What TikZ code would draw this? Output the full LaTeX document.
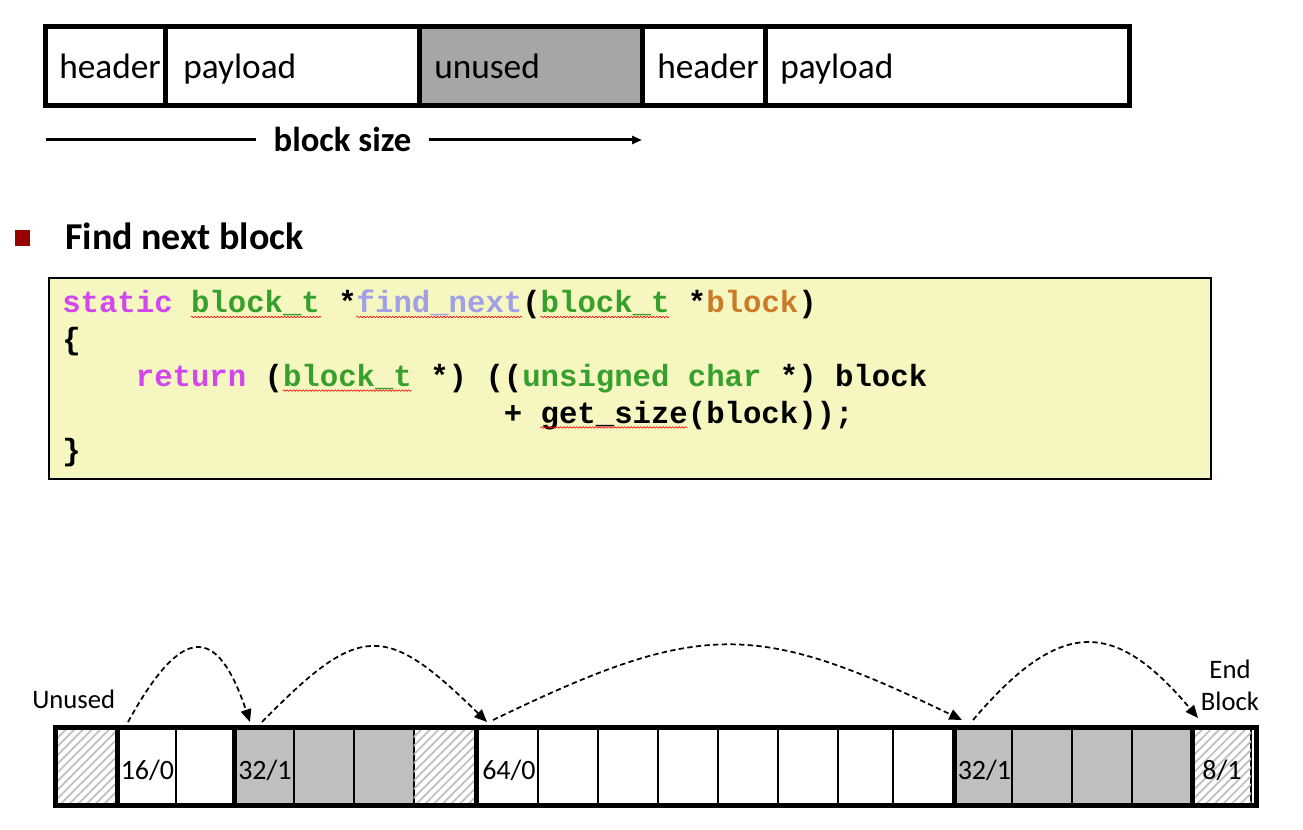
\documentclass[tikz,border=0pt]{standalone}
\usepackage{fontspec}
\setmainfont{Carlito}
\newfontfamily\codefont{Liberation Mono}
\usetikzlibrary{arrows.meta,patterns.meta,decorations.pathmorphing,calc}
\definecolor{kwc}{RGB}{210,70,240}
\definecolor{tyc}{RGB}{55,160,45}
\definecolor{fnc}{RGB}{160,160,232}
\definecolor{pac}{RGB}{205,122,40}
\definecolor{codebg}{RGB}{246,246,192}
\definecolor{topgray}{RGB}{166,166,166}
\definecolor{cellgray}{RGB}{191,191,191}
\definecolor{hatchc}{RGB}{190,190,190}
\definecolor{bulletred}{RGB}{153,0,0}
\newcommand\ckw[1]{{\color{kwc}#1}}
\newcommand\cty[1]{{\color{tyc}#1}}
\newcommand\cfn[1]{{\color{fnc}#1}}
\newcommand\cpa[1]{{\color{pac}#1}}
\begin{document}
\begin{tikzpicture}[x=0.75pt,y=-0.75pt,
  sect/.style={draw, line width=3.75pt, minimum height=58.9pt, inner sep=0pt, outer sep=0pt},
  toptext/.style={anchor=base west, inner sep=0pt, font=\fontsize{26.5}{30}\selectfont},
  code/.style={anchor=base west, inner sep=0pt, font=\fontsize{23}{27}\selectfont\codefont\bfseries},
  squig/.style={red, line width=0.45pt, decorate, decoration={snake, amplitude=0.55pt, segment length=2.4pt}},
  cell/.style={draw, line width=1.5pt, minimum height=58.5pt, inner sep=0pt, outer sep=0pt},
  whitecell/.style={fill=white},
  graycell/.style={fill=cellgray},
  hatchcell/.style={fill=white, postaction={pattern={Lines[angle=45,distance=4.6pt,line width=1.3pt]}, pattern color=hatchc}},
  thickline/.style={line width=3.75pt},
  lab/.style={inner sep=0pt, font=\fontsize{21}{24}\selectfont},
  conn/.style={line width=1.3pt, dash pattern=on 4pt off 2.5pt, -{Triangle[length=9.5pt,width=8pt]}},
  bsline/.style={line width=2.25pt}
]
\useasboundingbox (0,0) rectangle (1303,830);

% ---- top bar ----
\node[sect, fill=white, minimum width={(165-45)*0.75pt}] (s1) at (105,65.75) {};
\node[sect, fill=white, minimum width={(419-165)*0.75pt}] (s2) at (292,65.75) {};
\node[sect, fill=topgray, minimum width={(642-419)*0.75pt}] (s3) at (530.5,65.75) {};
\node[sect, fill=white, minimum width={(765-642)*0.75pt}] (s4) at (703.5,65.75) {};
\node[sect, fill=white, minimum width={(1129-765)*0.75pt}] (s5) at (947,65.75) {};
\node[toptext] (t1) at (59,79) {header};
\node[toptext] (t2) at (183,79) {payload};
\node[toptext] (t3) at (434,79) {unused};
\node[toptext] (t4) at (657,79) {header};
\node[toptext] (t5) at (780,79) {payload};

% ---- block size ----
\node[anchor=base, inner xsep=12.75pt, inner ysep=0pt, font=\bfseries\fontsize{26}{30}\selectfont] (bs) at (342.5,152) {block size};
\coordinate (bsl) at (46,140);
\coordinate (bsr) at (642,140);
\draw[bsline] (bsl) -- (bsl -| bs.west);
\draw[bsline, -{Triangle[length=7.5pt,width=6pt]}] (bsr -| bs.east) -- (bsr);

% ---- bullet ----
\node[fill=bulletred, minimum size=11.5pt, inner sep=0pt] (bul) at (22.5,238) {};
\node[anchor=base west, inner sep=0pt, font=\bfseries\fontsize{28.5}{32}\selectfont] (title) at (65,250) {Find next block};

% ---- code box ----
\node[draw, line width=1.9pt, fill=codebg, minimum width=871.5pt, minimum height=150.75pt, inner sep=0pt] (codebox) at (630,378.5) {};
\node[code] (code1) at (62,313) {\ckw{static} \cty{block\_t} *\cfn{find\_next}(\cty{block\_t} *\cpa{block})};
\node[code] (code2) at (62,349.8) {\{};
\node[code] (code3) at (135.6,386.6) {\ckw{return} (\cty{block\_t} *) ((\cty{unsigned char} *) block};
\node[code] (code4) at (503.6,423.4) {+ get\_size(block));};
\node[code] (code5) at (62,460.2) {\}};
% spell-check squiggles
\draw[squig] (190.8,317) -- (320.8,317);
\draw[squig] (356.4,317) -- (522,317);
\draw[squig] (540.4,317) -- (669.2,317);
\draw[squig] (282.8,390.6) -- (411.6,390.6);
\draw[squig] (540.4,427.4) -- (687.6,427.4);

% ---- heap cells ----
\foreach \n/\a/\b/\s in {
  1/55/117.5/hatchcell, 2/117.5/176/whitecell, 3/176/234/whitecell,
  4/234/294/graycell, 5/294/353.5/graycell, 6/353.5/413.5/graycell, 7/413.5/476/hatchcell,
  8/476/538/whitecell, 9/538/598/whitecell, 10/598/658/whitecell, 11/658/718/whitecell,
  12/718/778/whitecell, 13/778/838/whitecell, 14/838/893/whitecell, 15/893/954/whitecell,
  16/954/1012/graycell, 17/1012/1072/graycell, 18/1072/1132/graycell, 19/1132/1192/graycell,
  20/1192/1251/hatchcell} {
  \node[cell, \s, minimum width={(\b-\a)*0.75pt}] (c\n) at ({(\a+\b)/2},766.5) {};
}
\foreach \n in {1,3,7,15,19} {
  \draw[thickline] (c\n.north east) -- (c\n.south east);
}
\node[draw, thickline, minimum width={(1256-55)*0.75pt}, minimum height=58.5pt, inner sep=0pt, outer sep=0pt] (heap) at (655.5,766.5) {};

\node[lab, anchor=base west] (l1) at (120.5,779) {16/0};
\node[lab, anchor=base west] (l2) at (238,779) {32/1};
\node[lab, anchor=base west] (l3) at (482,779) {64/0};
\node[lab, anchor=base west] (l4) at (957.5,779) {32/1};
\node[lab, anchor=base] (l5) at (1222,779) {8/1};

\node[lab, anchor=base west, font=\fontsize{20}{24}\selectfont] (unused) at (32,708) {Unused};
\node[lab, anchor=base, font=\fontsize{20}{24}\selectfont] (endl) at (1230,678) {End};
\node[lab, anchor=base, font=\fontsize{20}{24}\selectfont] (blockl) at (1230,710) {Block};

% ---- next-block arrows ----
\coordinate (p1s) at (128,722);
\coordinate (p1e) at (250,722);
\coordinate (p2s) at (262,722);
\coordinate (p2e) at (487,722);
\coordinate (p3s) at (493,720);
\coordinate (p3e) at (962,720);
\coordinate (p4s) at (973,720);
\coordinate (p4e) at (1198,718);
\draw[conn] (p1s) .. controls (182,624) and (217,624) .. (p1e);
\draw[conn] (p2s) .. controls (360,622) and (385,622) .. (p2e);
\draw[conn] (p3s) .. controls (700,620) and (755,620) .. (p3e);
\draw[conn] (p4s) .. controls (1060,618) and (1114,618) .. (p4e);
\end{tikzpicture}
\end{document}
